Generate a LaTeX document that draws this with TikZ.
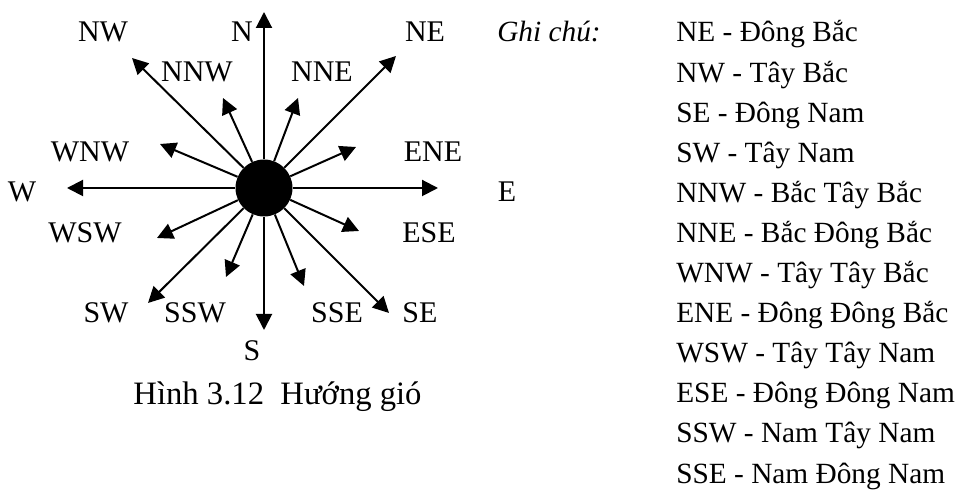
\documentclass[tikz,border=0pt]{standalone}
\usepackage{fontspec}
\setmainfont{Liberation Serif}
\usetikzlibrary{arrows.meta}

\begin{document}
\begin{tikzpicture}[
    x=0.75pt, y=0.75pt,
    >={Triangle[length=12pt,width=12pt]},
    ray/.style={->, line width=1.5pt},
    dir/.style={anchor=base, inner sep=0pt, font=\fontsize{22.5}{27}\selectfont},
    note/.style={anchor=base west, inner sep=0pt, font=\fontsize{22}{26}\selectfont}
  ]
  \useasboundingbox (0,0) rectangle (960,491);

  % hub and the sixteen rays
  \node[circle, fill=black, minimum size=42.75pt, inner sep=0pt] (hub) at (264,303) {};
  \foreach \name/\x/\y in {N/264/479, S/264/161, E/438/303, W/67/303,
      NE/396/435, NW/132/433, SE/389/178, SW/148/188,
      NNE/298/393, NNW/223/393, ENE/356/344, WNW/160/347,
      ESE/359/260, WSW/157/253, SSE/304/205, SSW/226/214} {
    \coordinate (tip\name) at (\x,\y);
    \draw[ray] (hub) -- (tip\name);
  }

  % direction labels
  \node[dir] (lblNW)  at (103,449) {NW};
  \node[dir] (lblN)   at (242,449) {N};
  \node[dir] (lblNE)  at (425,449) {NE};
  \node[dir] (lblNNW) at (197,409) {NNW};
  \node[dir] (lblNNE) at (322,409) {NNE};
  \node[dir] (lblWNW) at (90,329)  {WNW};
  \node[dir] (lblENE) at (433,329) {ENE};
  \node[dir] (lblW)   at (22,289)  {W};
  \node[dir] (lblE)   at (507,289) {E};
  \node[dir] (lblWSW) at (85,248)  {WSW};
  \node[dir] (lblESE) at (429,248) {ESE};
  \node[dir] (lblSW)  at (106,168) {SW};
  \node[dir] (lblSSW) at (195,168) {SSW};
  \node[dir] (lblSSE) at (337,168) {SSE};
  \node[dir] (lblSE)  at (420,168) {SE};
  \node[dir] (lblS)   at (252,130) {S};

  \node[anchor=base, inner sep=0pt, font=\fontsize{24.5}{29}\selectfont]
    (caption) at (277.5,86) {Hình 3.12\ \ Hướng gió};

  % legend
  \node[note, font=\fontsize{22}{26}\selectfont\itshape] (keytitle) at (497,449) {Ghi chú:};
  \foreach \txt [count=\i from 0] in {NE - Đông Bắc, NW - Tây Bắc, SE - Đông Nam,
      SW - Tây Nam, NNW - Bắc Tây Bắc, NNE - Bắc Đông Bắc, WNW - Tây Tây Bắc,
      ENE - Đông Đông Bắc, WSW - Tây Tây Nam, ESE - Đông Đông Nam,
      SSW - Nam Tây Nam, SSE - Nam Đông Nam}
    \node[note] (key\i) at (676,449-40.1*\i) {\txt};
\end{tikzpicture}
\end{document}
